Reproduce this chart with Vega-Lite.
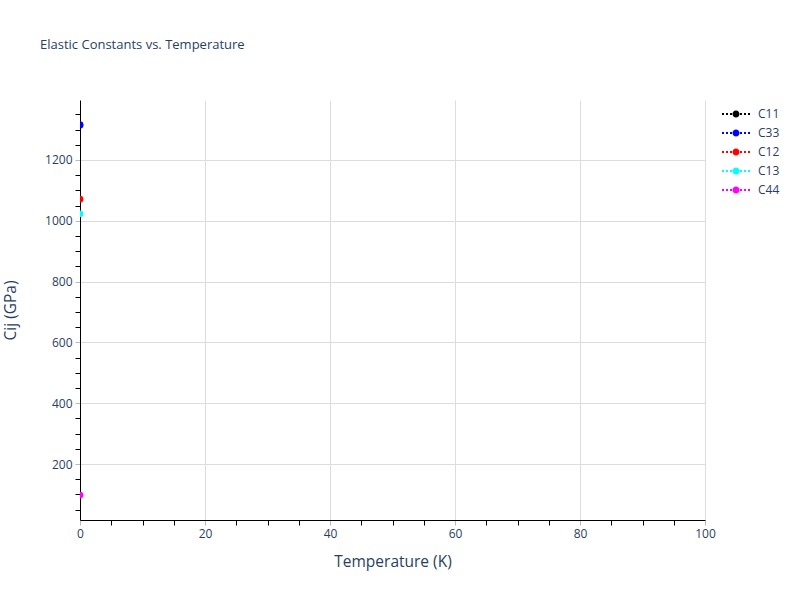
{
  "$schema": "https://vega.github.io/schema/vega-lite/v6.json",
  "width": 625,
  "height": 420,
  "autosize": {"type": "none"},
  "padding": {"left": 80, "top": 100, "right": 95, "bottom": 80},
  "background": "white",
  "title": {
    "text": "Elastic Constants vs. Temperature",
    "anchor": "start",
    "frame": "group",
    "dx": -40,
    "offset": 48,
    "font": "Open Sans",
    "fontSize": 13,
    "fontWeight": "normal",
    "color": "#2a3f5f"
  },
  "data": {
    "values": [
      {"constant": "C11", "temperature": 0, "value": 1315},
      {"constant": "C33", "temperature": 0, "value": 1315},
      {"constant": "C12", "temperature": 0, "value": 1071},
      {"constant": "C13", "temperature": 0, "value": 1023},
      {"constant": "C44", "temperature": 0, "value": 98}
    ]
  },
  "mark": {"type": "point", "filled": true, "size": 45, "opacity": 1, "clip": true},
  "encoding": {
    "x": {
      "field": "temperature",
      "type": "quantitative",
      "title": "Temperature (K)",
      "scale": {"domain": [0, 100], "nice": false, "zero": false},
      "axis": {
        "values": [0, 5, 10, 15, 20, 25, 30, 35, 40, 45, 50, 55, 60, 65, 70, 75, 80, 85, 90, 95, 100],
        "labelExpr": "datum.value % 20 === 0 ? datum.label : ''",
        "format": "d",
        "grid": true,
        "gridColor": "#dddddd",
        "gridOpacity": {"condition": {"test": "datum.value % 20 === 0 && datum.value > 0", "value": 1}, "value": 0},
        "tickColor": {"condition": {"test": "datum.value % 20 === 0", "value": "#bbbbbb"}, "value": "#000000"},
        "tickSize": 5,
        "domainColor": "#000000",
        "labelPadding": 3,
        "labelFlush": false,
        "labelOverlap": false,
        "titlePadding": 15
      }
    },
    "y": {
      "field": "value",
      "type": "quantitative",
      "title": "Cij (GPa)",
      "scale": {"domain": [16, 1397], "nice": false, "zero": false},
      "axis": {
        "values": [50, 100, 150, 200, 250, 300, 350, 400, 450, 500, 550, 600, 650, 700, 750, 800, 850, 900, 950, 1000, 1050, 1100, 1150, 1200, 1250, 1300, 1350],
        "labelExpr": "datum.value % 200 === 0 ? datum.label : ''",
        "format": "d",
        "grid": true,
        "gridColor": "#dddddd",
        "gridOpacity": {"condition": {"test": "datum.value % 200 === 0", "value": 1}, "value": 0},
        "tickColor": {"condition": {"test": "datum.value % 200 === 0", "value": "#bbbbbb"}, "value": "#000000"},
        "tickSize": 5,
        "domainColor": "#000000",
        "labelPadding": 3,
        "labelFlush": false,
        "labelOverlap": false,
        "titlePadding": 26
      }
    },
    "color": {
      "field": "constant",
      "type": "nominal",
      "sort": ["C11", "C33", "C12", "C13", "C44"],
      "scale": {
        "domain": ["C11", "C33", "C12", "C13", "C44"],
        "range": ["#000000", "#0000ff", "#ff0000", "#00ffff", "#ff00ff"]
      },
      "legend": {
        "title": null,
        "orient": "none",
        "legendX": 648,
        "legendY": 6,
        "symbolType": "M-1.75,-0.125h0.25v0.25h-0.25Z M-1.25,-0.125h0.25v0.25h-0.25Z M-0.75,-0.125h0.25v0.25h-0.25Z M0.5,-0.125h0.25v0.25h-0.25Z M1,-0.125h0.25v0.25h-0.25Z M1.5,-0.125h0.25v0.25h-0.25Z M-0.44,0A0.44,0.44 0 1,0 0.44,0A0.44,0.44 0 1,0 -0.44,0Z",
        "symbolSize": 256,
        "symbolStrokeWidth": 0,
        "symbolOpacity": 1,
        "labelOffset": 14,
        "rowPadding": 5,
        "labelFont": "Open Sans",
        "labelFontSize": 12,
        "labelColor": "#2a3f5f"
      }
    },
    "order": {"field": "constant", "sort": "ascending"}
  },
  "config": {
    "view": {"stroke": null},
    "axis": {
      "labelFont": "Open Sans",
      "labelFontSize": 12,
      "labelColor": "#2a3f5f",
      "titleFont": "Open Sans",
      "titleFontSize": 15.5,
      "titleFontWeight": "normal",
      "titleColor": "#2a3f5f"
    }
  }
}
